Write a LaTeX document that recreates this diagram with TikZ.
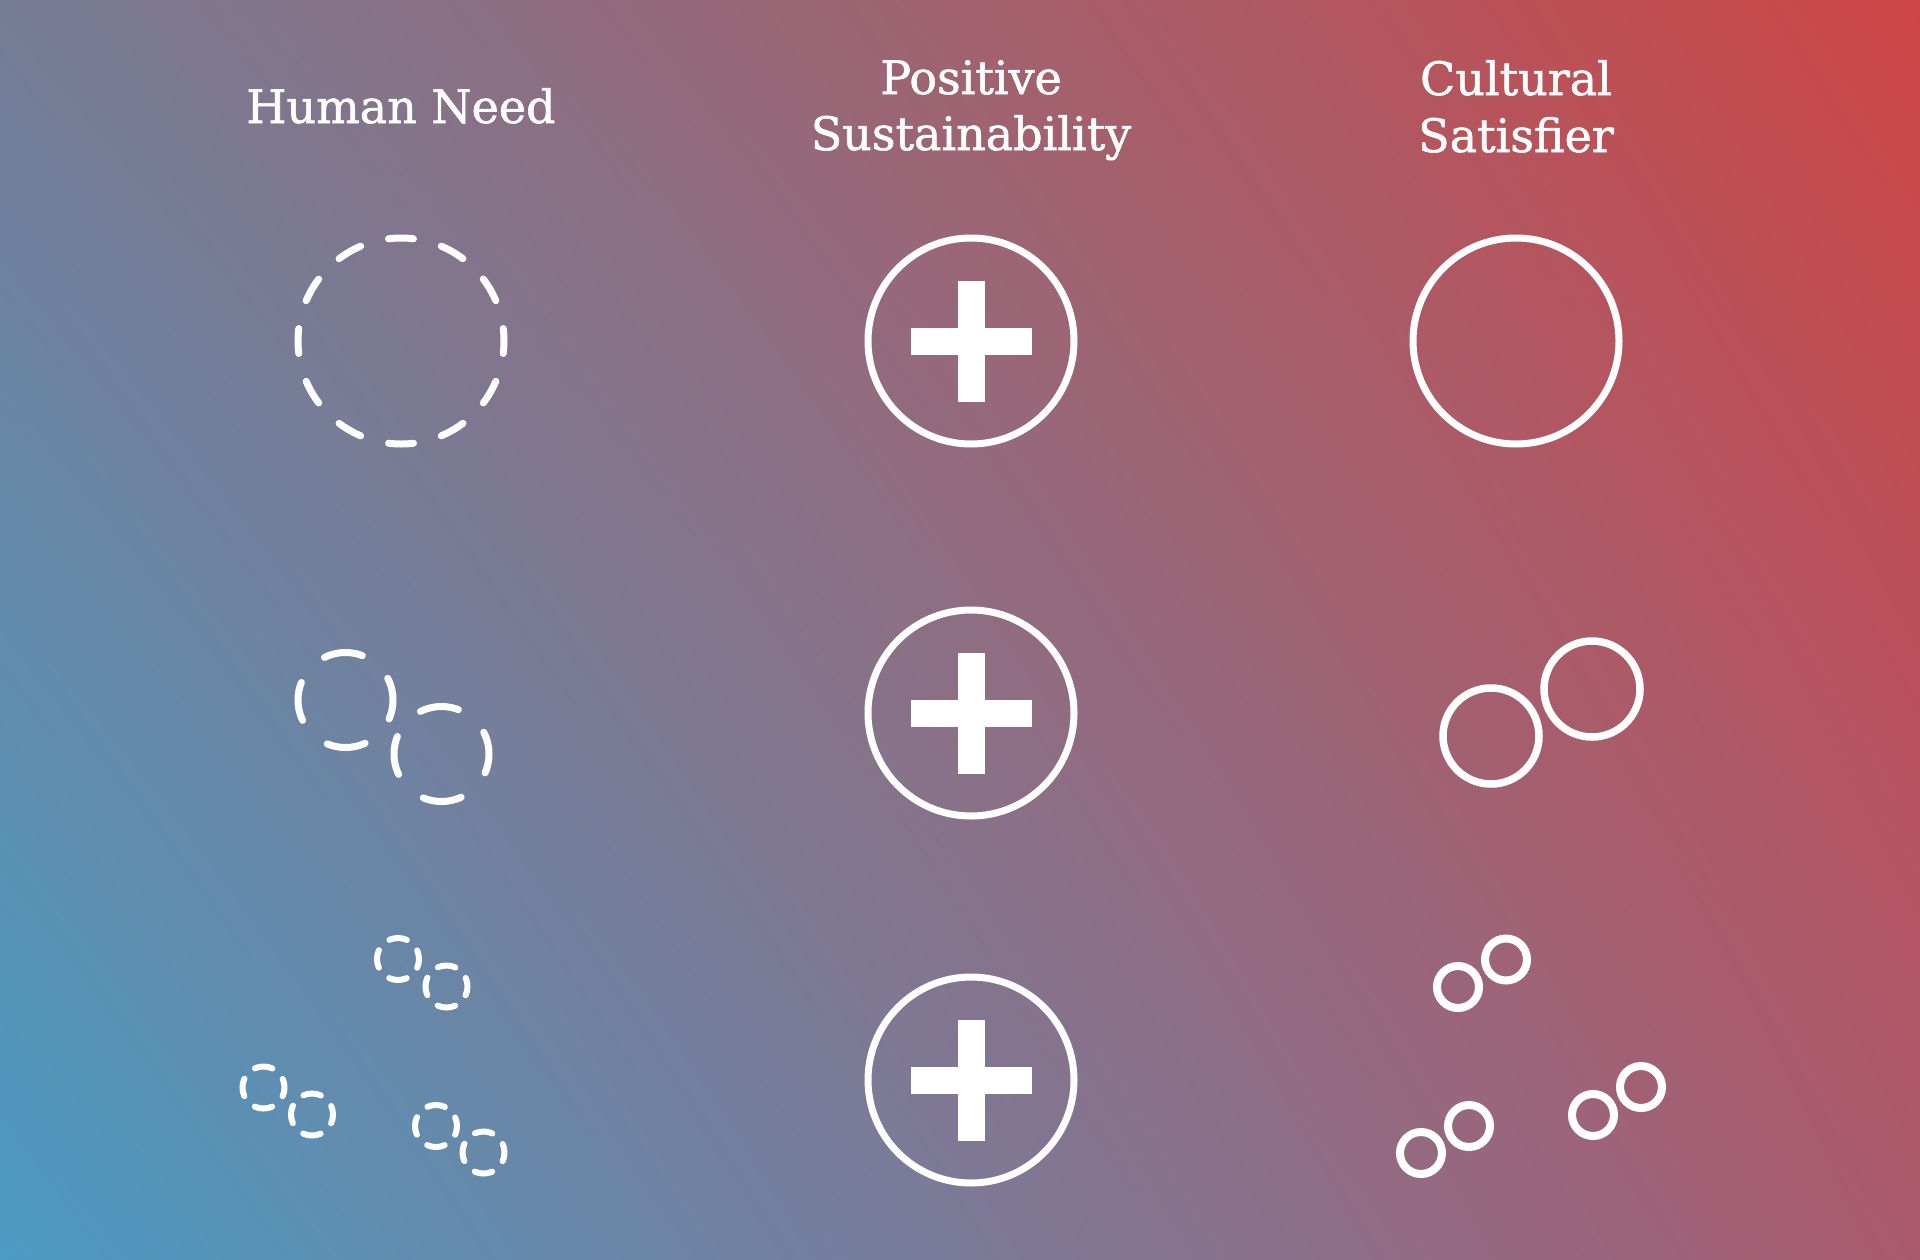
\documentclass[tikz,border=0pt]{standalone}
\usepackage{fontspec}
\setmainfont{DejaVu Serif}[FakeBold=1.2]
\usetikzlibrary{shadings}
\definecolor{cTL}{RGB}{118,124,150}
\definecolor{cTR}{RGB}{205,70,70}
\definecolor{cBL}{RGB}{75,155,195}
\definecolor{cBR}{RGB}{170,90,110}
\tikzset{
  title/.style={text=white, anchor=base, inner sep=0pt, font=\fontsize{46}{56}\selectfont},
  ring/.style={draw=white, line width=7pt},
  bigdash/.style={draw=white, line width=7pt, line cap=round, dash pattern=on 25pt off 28.93pt, dash phase=12.5pt},
  middash/.style={draw=white, line width=7pt, line cap=round, dash pattern=on 39pt off 34.83pt, dash phase=19.5pt},
  smalldash/.style={draw=white, line width=6pt, line cap=round, dash pattern=on 18pt off 14.99pt, dash phase=9pt},
  midring/.style={draw=white, line width=7.5pt},
  smallring/.style={draw=white, line width=8pt},
  plusbar/.style={fill=white, draw=none}
}
\begin{document}
\begin{tikzpicture}[x=1pt,y=-1pt]
\useasboundingbox (0,0) rectangle (1920,1259);
\shade[upper left=cTL, upper right=cTR, lower left=cBL, lower right=cBR] (0,0) rectangle (1920,1259);

% titles
\node[title] (hn) at (401,123) {Human Need};
\node[title] (ps1) at (971,94) {Positive};
\node[title] (ps2) at (971,150) {Sustainability};
\node[title] (cs1) at (1516,95) {Cultural};
\node[title] (cs2) at (1516,152) {Satisfier};

% row 1
\draw[bigdash] (401,341) circle[radius=103];
\draw[ring] (971,341) circle[radius=103];
\fill[plusbar] (971-13.5,341-60.5) rectangle (971+13.5,341+60.5);
\fill[plusbar] (971-60.5,341-13.5) rectangle (971+60.5,341+13.5);
\draw[ring] (1516,341) circle[radius=103];

% row 2
\draw[middash] (345.5,700) circle[radius=47.5];
\draw[middash] (441.5,754) circle[radius=47.5];
\draw[ring] (971,713) circle[radius=103];
\fill[plusbar] (971-13.5,713-60.5) rectangle (971+13.5,713+60.5);
\fill[plusbar] (971-60.5,713-13.5) rectangle (971+60.5,713+13.5);
\draw[midring] (1491,736) circle[radius=48];
\draw[midring] (1592,689) circle[radius=48];

% row 3
\draw[smalldash] (398,959) circle[radius=21];
\draw[smalldash] (446.5,986.5) circle[radius=21];
\draw[smalldash] (263.5,1087.5) circle[radius=21];
\draw[smalldash] (312,1114.5) circle[radius=21];
\draw[smalldash] (436,1126) circle[radius=21];
\draw[smalldash] (483.5,1152.5) circle[radius=21];
\draw[ring] (971,1080) circle[radius=103];
\fill[plusbar] (971-13.5,1080-60.5) rectangle (971+13.5,1080+60.5);
\fill[plusbar] (971-60.5,1080-13.5) rectangle (971+60.5,1080+13.5);
\draw[smallring] (1458,987) circle[radius=21];
\draw[smallring] (1506,959.5) circle[radius=21];
\draw[smallring] (1421,1153) circle[radius=21];
\draw[smallring] (1469,1126) circle[radius=21];
\draw[smallring] (1593,1115) circle[radius=21];
\draw[smallring] (1641,1087) circle[radius=21];
\end{tikzpicture}
\end{document}
